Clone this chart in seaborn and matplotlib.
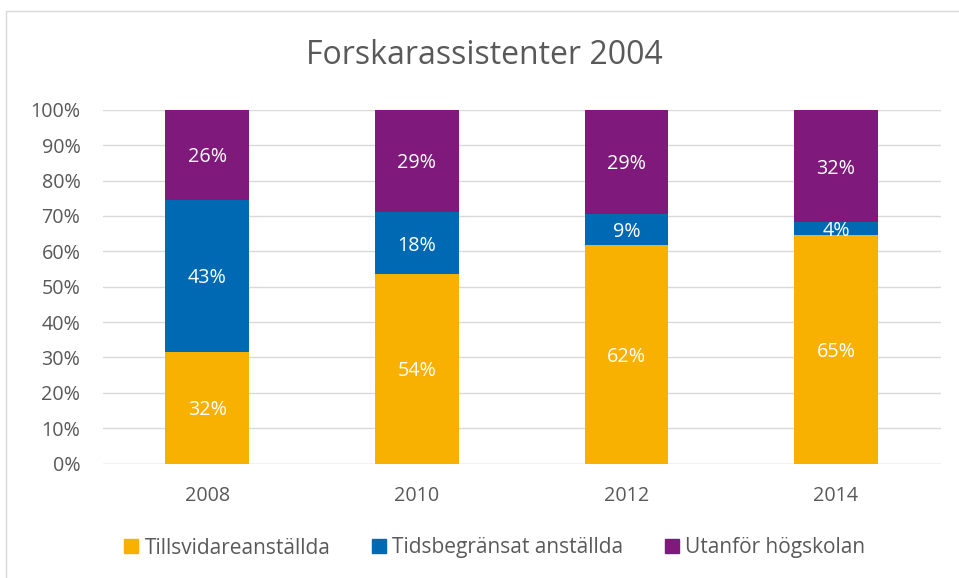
import numpy as np
import pandas as pd
import matplotlib
matplotlib.use("Agg")
import matplotlib.pyplot as plt
import seaborn as sns
from matplotlib.patches import Rectangle

# =========================================================
# DATA
# =========================================================

years = ["2008", "2010", "2012", "2014"]
tillsvidare = [31.6, 53.6, 61.8, 64.6]
tidsbegransat = [42.9, 17.5, 8.8, 3.6]
utanfor = [25.5, 28.9, 29.4, 31.8]
series_names = ["Tillsvidareanställda", "Tidsbegränsat anställda", "Utanför högskolan"]
colors = ["#F8B100", "#0069B4", "#7F197C"]

# =========================================================
# STYLE
# =========================================================

sns.set_style("white")
plt.rcParams["font.family"] = ["Open Sans", "DejaVu Sans"]
text_gray = "#595959"

fig = plt.figure(figsize=(9.59, 5.78), dpi=100)
ax = fig.add_axes([0.107, 0.198, 0.874, 0.612])

# chart border
fig.patches.append(Rectangle((6 / 959, -0.01), 1.0, 1 - 11 / 578 + 0.01,
                             transform=fig.transFigure, fill=False,
                             edgecolor="#D9D9D9", linewidth=1))

# =========================================================
# STACKED BARS (cumulative, drawn from top layer down)
# =========================================================

layers = [tillsvidare, tidsbegransat, utanfor]
cum = np.cumsum(np.array(layers), axis=0)

for i in reversed(range(3)):
    df = pd.DataFrame({"year": years, "value": cum[i]})
    sns.barplot(data=df, x="year", y="value", color=colors[i],
                width=0.4, saturation=1, linewidth=0, ax=ax, zorder=3)

# data labels
for i in range(3):
    for j in range(len(years)):
        bottom = cum[i][j] - layers[i][j]
        ax.text(j, bottom + layers[i][j] / 2, f"{layers[i][j]:.0f}%",
                ha="center", va="center_baseline", color="white",
                fontsize=14.2, zorder=5)

# =========================================================
# AXES
# =========================================================

ax.set_ylim(0, 100)
ax.set_xlim(-0.5, 3.5)
ax.set_yticks(range(0, 101, 10))
ax.set_yticklabels([f"{t}%" for t in range(0, 101, 10)])
ax.yaxis.grid(True, color="#D9D9D9", linewidth=1, zorder=0)
ax.set_axisbelow(True)
for s in ax.spines.values():
    s.set_visible(False)
ax.axhline(0, color="#D9D9D9", linewidth=1, zorder=2)
ax.tick_params(axis="both", length=0, labelsize=14.2, colors=text_gray)
ax.tick_params(axis="y", pad=16)
ax.tick_params(axis="x", pad=16)
ax.set_xlabel("")
ax.set_ylabel("")

fig.text(0.505, 1 - 55 / 578, "Forskarassistenter 2004", ha="center", va="center",
         fontsize=23, color=text_gray)

# legend
handles = [Rectangle((0, 0), 1, 1, color=c) for c in colors]
fig.legend(handles, series_names, loc="center", bbox_to_anchor=(0.516, 1 - 548 / 578),
           ncol=3, frameon=False, fontsize=15, labelcolor=text_gray,
           handlelength=0.67, handleheight=0.67, handletextpad=0.3, columnspacing=2.0)

plt.savefig("out.png", dpi=100)
